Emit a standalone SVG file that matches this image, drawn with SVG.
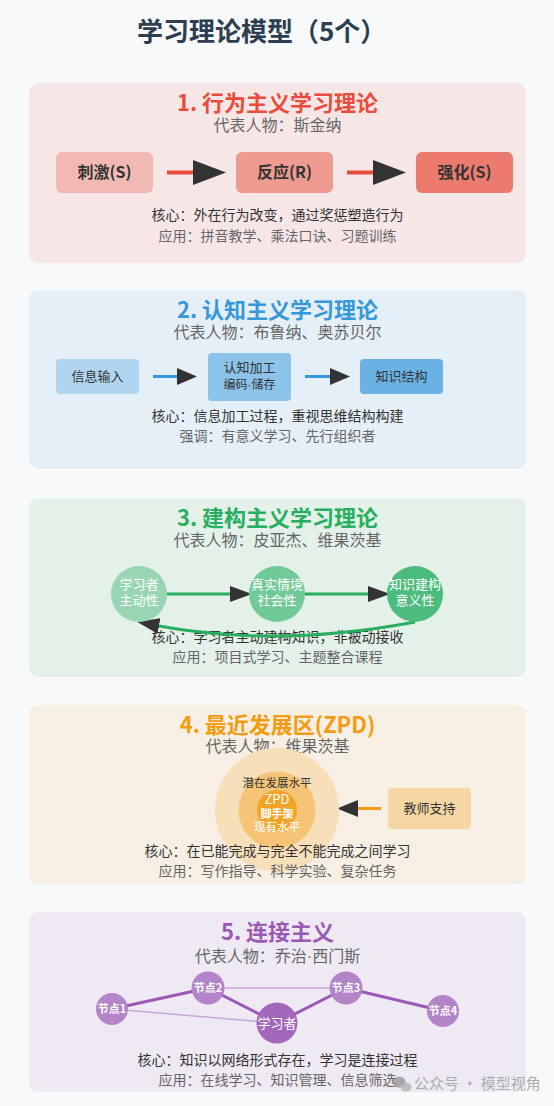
<svg xmlns="http://www.w3.org/2000/svg" width="554" height="1106" viewBox="0 0 554 1106">
<style>
text{font-family:'Noto Sans CJK SC','Noto Sans',sans-serif}
.dot{font-family:'Liberation Sans',sans-serif}
.title{font-size:26px;font-weight:bold;fill:#2c3e50}
.pt{font-size:22px;font-weight:bold;text-anchor:middle}
.sub{font-size:16px;fill:#666;text-anchor:middle}
.core{font-size:14px;fill:#333;text-anchor:middle}
.app{font-size:14px;fill:#666;text-anchor:middle}
.bx{font-size:16px;font-weight:bold;fill:#333;text-anchor:middle}
.bx2{font-size:13px;fill:#333;text-anchor:middle}
.ct{font-size:13px;fill:#fff;text-anchor:middle}
.nt{font-size:11px;font-weight:bold;fill:#fff;text-anchor:middle}
.panel{stroke:none}
</style>
<defs>
<marker id="ah1" markerUnits="userSpaceOnUse" markerWidth="33" markerHeight="25" viewBox="0 0 33 25" refX="0" refY="12.5" orient="auto"><path d="M0,0 L33,12.5 L0,25 Z" fill="#333"/></marker>
<marker id="ah2" markerUnits="userSpaceOnUse" markerWidth="20" markerHeight="17" viewBox="0 0 20 17" refX="0" refY="8.5" orient="auto"><path d="M0,0 L20,8.5 L0,17 Z" fill="#333"/></marker>
<marker id="ah3" markerUnits="userSpaceOnUse" markerWidth="22" markerHeight="16" viewBox="0 0 22 16" refX="0" refY="8" orient="auto"><path d="M0,0 L22,8 L0,16 Z" fill="#333"/></marker>
<marker id="ah4" markerUnits="userSpaceOnUse" markerWidth="21" markerHeight="17" viewBox="0 0 21 17" refX="0" refY="8.5" orient="auto"><path d="M0,0 L21,8.5 L0,17 Z" fill="#333"/></marker>
</defs>
<rect x="0" y="0" width="554" height="1106" fill="#f8f9fa"/>
<text class="title" x="137" y="41">学习理论模型（5个）</text>

<g id="panel1">
<rect class="panel" x="29" y="83" width="497" height="180" rx="9" fill="#f6e7e6"/>
<text class="pt" x="277.5" y="111" fill="#e74c3c">1. 行为主义学习理论</text>
<text class="sub" x="277.5" y="131">代表人物：斯金纳</text>
<text class="core" x="277.5" y="220">核心：外在行为改变，通过奖惩塑造行为</text>
<text class="app" x="277.5" y="241">应用：拼音教学、乘法口诀、习题训练</text>
</g>
<g id="n1-stimulus"><rect x="56" y="152" width="97" height="41" rx="6" fill="#f2b9b4"/><text class="bx" x="104.5" y="178">刺激(S)</text></g>
<g id="n1-response"><rect x="236" y="152" width="97" height="41" rx="6" fill="#ee9a91"/><text class="bx" x="284.5" y="178">反应(R)</text></g>
<g id="n1-reinforce"><rect x="416" y="152" width="97" height="41" rx="6" fill="#eb7a6f"/><text class="bx" x="464.5" y="178">强化(S)</text></g>

<g id="panel2">
<rect class="panel" x="29" y="290" width="497" height="179" rx="9" fill="#e4eff7"/>
<text class="pt" x="277.5" y="318" fill="#3498db">2. 认知主义学习理论</text>
<text class="sub" x="277.5" y="338">代表人物：布鲁纳、奥苏贝尔</text>
<text class="core" x="277.5" y="421">核心：信息加工过程，重视思维结构构建</text>
<text class="app" x="277.5" y="441">强调：有意义学习、先行组织者</text>
</g>
<g id="n2-input"><rect x="56" y="359" width="83" height="35" rx="4" fill="#afd5ef"/><text class="bx2" x="97.5" y="381">信息输入</text></g>
<g id="n2-process"><rect x="208" y="353" width="83" height="48" rx="4" fill="#8cc3e9"/><text class="bx2" x="249.5" y="372">认知加工</text><text class="bx2" x="249.5" y="389" style="font-size:12px">编码<tspan class="dot">·</tspan>储存</text></g>
<g id="n2-structure"><rect x="360" y="359" width="83" height="35" rx="4" fill="#69b2e3"/><text class="bx2" x="401.5" y="381">知识结构</text></g>

<g id="panel3">
<rect class="panel" x="29" y="498" width="497" height="179" rx="9" fill="#e3f1e9"/>
<text class="pt" x="277.5" y="526" fill="#27ae60">3. 建构主义学习理论</text>
<text class="sub" x="277.5" y="546">代表人物：皮亚杰、维果茨基</text>
<text class="core" x="277.5" y="642">核心：学习者主动建构知识，非被动接收</text>
<text class="app" x="277.5" y="662">应用：项目式学习、主题整合课程</text>
</g>

<g id="panel4">
<rect class="panel" x="29" y="705" width="497" height="179" rx="9" fill="#f7efe3"/>
<text class="pt" x="277.5" y="733" fill="#f39c12">4. 最近发展区(ZPD)</text>
<text class="sub" x="277.5" y="752">代表人物：维果茨基</text>
</g>

<g id="panel5">
<rect class="panel" x="29" y="912" width="497" height="180" rx="9" fill="#efe9f3"/>
<text class="pt" x="277.5" y="940" fill="#9b59b6">5. 连接主义</text>
<text class="sub" x="277.5" y="962">代表人物：乔治<tspan class="dot">·</tspan>西门斯</text>
</g>

<g id="connectors">
<line x1="167" y1="172.5" x2="193" y2="172.5" stroke="#e74c3c" stroke-width="4" marker-end="url(#ah1)"/>
<line x1="347" y1="172.5" x2="373" y2="172.5" stroke="#e74c3c" stroke-width="4" marker-end="url(#ah1)"/>
<line x1="153" y1="376.5" x2="177" y2="376.5" stroke="#3498db" stroke-width="3" marker-end="url(#ah2)"/>
<line x1="305" y1="376.5" x2="330" y2="376.5" stroke="#3498db" stroke-width="3" marker-end="url(#ah2)"/>
<line x1="167" y1="594" x2="230" y2="594" stroke="#27ae60" stroke-width="3" marker-end="url(#ah3)"/>
<line x1="305" y1="594" x2="368" y2="594" stroke="#27ae60" stroke-width="3" marker-end="url(#ah3)"/>
<path d="M415,622 Q277,648 159,626" fill="none" stroke="#27ae60" stroke-width="3" marker-end="url(#ah3)"/>
<line x1="381" y1="808.5" x2="358" y2="808.5" stroke="#f39c12" stroke-width="3" marker-end="url(#ah4)"/>
<g stroke="#9b59b6" stroke-width="3">
<line x1="112" y1="1009" x2="208" y2="988"/>
<line x1="208" y1="988" x2="277" y2="1023"/>
<line x1="277" y1="1023" x2="346" y2="988"/>
<line x1="346" y1="988" x2="443" y2="1011"/>
</g>
<g stroke="#9b59b6" stroke-width="1.5" stroke-opacity="0.45">
<line x1="208" y1="988" x2="346" y2="988"/>
<line x1="112" y1="1009" x2="277" y2="1023"/>
</g>
</g>

<g id="n3-learner"><circle cx="139" cy="594" r="28" fill="#98d6b3"/><text class="ct" x="139" y="589">学习者</text><text class="ct" x="139" y="605">主动性</text></g>
<g id="n3-context"><circle cx="277" cy="594" r="28" fill="#72c998"/><text class="ct" x="277" y="589">真实情境</text><text class="ct" x="277" y="605">社会性</text></g>
<g id="n3-knowledge"><circle cx="415" cy="594" r="28" fill="#4dbb7b"/><text class="ct" x="415" y="589">知识建构</text><text class="ct" x="415" y="605">意义性</text></g>

<g id="n4-zpd">
<circle cx="277" cy="810" r="62" fill="#f7dfb9"/>
<circle cx="277" cy="810" r="38.5" fill="#f5c476"/>
<circle cx="277" cy="810" r="20" fill="#f3a426"/>
<text x="277" y="787" style="font-size:11.5px;fill:#333;text-anchor:middle">潜在发展水平</text>
<text x="277" y="804" style="font-size:13px;fill:#fff;text-anchor:middle">ZPD</text>
<text x="277" y="818" style="font-size:11px;font-weight:bold;fill:#fff;text-anchor:middle">脚手架</text>
<text x="277" y="831" style="font-size:11.5px;fill:#fff;text-anchor:middle">现有水平</text>
</g>
<g id="n4-teacher"><rect x="388" y="788" width="83" height="41" rx="4" fill="#f6d7a4"/><text class="bx2" x="429.5" y="813">教师支持</text></g>
<g id="panel4-text">
<text class="core" x="277.5" y="856">核心：在已能完成与完全不能完成之间学习</text>
<text class="app" x="277.5" y="876">应用：写作指导、科学实验、复杂任务</text>
</g>

<g id="n5-node1"><circle cx="112" cy="1009" r="16" fill="#b484c8"/><text class="nt" x="112" y="1013">节点1</text></g>
<g id="n5-node2"><circle cx="208" cy="988" r="16.5" fill="#b484c8"/><text class="nt" x="208" y="992">节点2</text></g>
<g id="n5-learner"><circle cx="277" cy="1023" r="20.5" fill="#a367bc"/><text x="277" y="1028" style="font-size:13px;fill:#fff;text-anchor:middle">学习者</text></g>
<g id="n5-node3"><circle cx="346" cy="988" r="16.5" fill="#b484c8"/><text class="nt" x="346" y="992">节点3</text></g>
<g id="n5-node4"><circle cx="443" cy="1011" r="16" fill="#b484c8"/><text class="nt" x="443" y="1015">节点4</text></g>
<g id="panel5-text">
<text class="core" x="277.5" y="1065">核心：知识以网络形式存在，学习是连接过程</text>
<text class="app" x="277.5" y="1085">应用：在线学习、知识管理、信息筛选</text>
</g>

<g id="watermark" fill="#9a9a9a" fill-opacity="0.85">
<ellipse cx="399" cy="1082" rx="6.5" ry="5.5"/>
<ellipse cx="406" cy="1087" rx="5.5" ry="4.5" fill="#b5b5b5"/>
<text x="414" y="1089" style="font-size:15px;fill:#a0a0a0">公众号 · 模型视角</text>
</g>
</svg>
